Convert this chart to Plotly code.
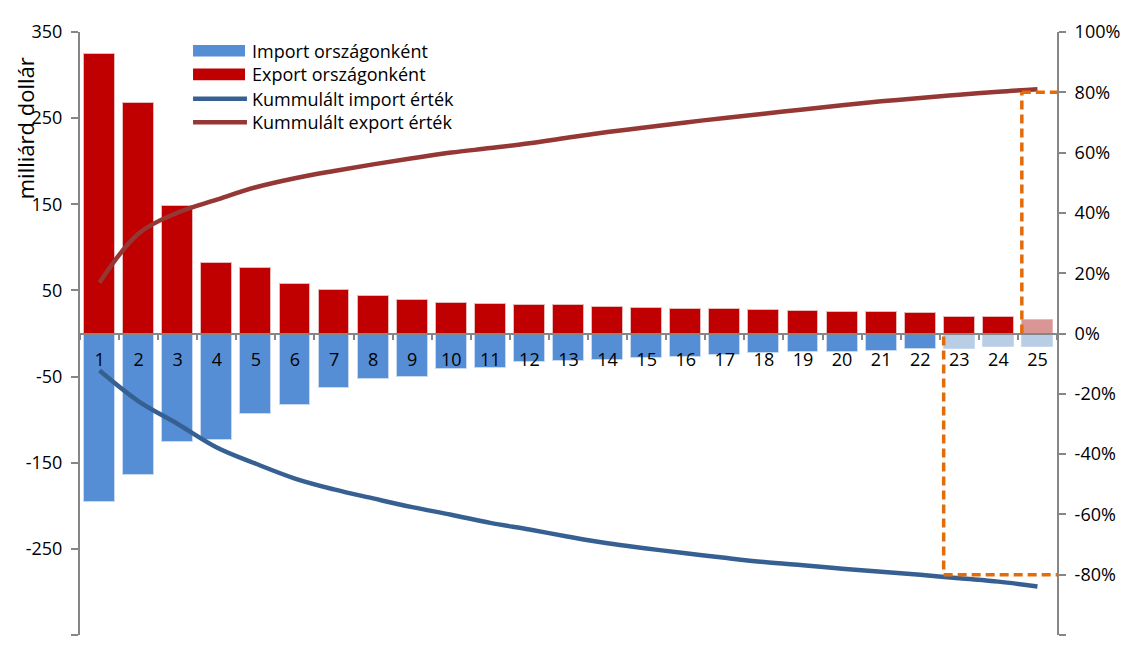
import plotly.graph_objects as go

categories = list(range(1, 25 + 1))
export_values = [325, 268, 148, 82, 75.5, 58, 50, 43, 38.5, 35, 34.3, 33.2, 32.8, 30.9,
                 29.7, 28.6, 28.6, 27.5, 26, 25.2, 24.4, 24, 19.5, 19, 15.5]
import_values = [-196, -164, -126, -124, -94, -83.5, -63, -53, -50, -41, -40, -33, -32,
                 -30.5, -28.6, -27.5, -24.8, -23.2, -22, -22, -20.6, -18, -18.5, -16, -16]
cum_export = [0.169, 0.332, 0.401, 0.444, 0.485, 0.515, 0.539, 0.561, 0.581, 0.600,
              0.615, 0.631, 0.650, 0.668, 0.684, 0.700, 0.715, 0.729, 0.743, 0.757,
              0.770, 0.781, 0.792, 0.802, 0.810]
cum_import = [-0.123, -0.225, -0.300, -0.378, -0.432, -0.481, -0.517, -0.547, -0.576,
              -0.601, -0.628, -0.650, -0.674, -0.696, -0.713, -0.729, -0.744, -0.758,
              -0.769, -0.780, -0.790, -0.800, -0.812, -0.823, -0.839]
export_light = [25]
import_light = [23, 24, 25]

left_ticks = [-350, -250, -150, -50, 50, 150, 250, 350]
left_ticktext = [str(v) for v in left_ticks]
right_ticks = [-1.0, -0.8, -0.6, -0.4, -0.2, 0.0, 0.2, 0.4, 0.6, 0.8, 1.0]
right_ticktext = [f"{round(v * 100)}%" for v in right_ticks]

series_names = ["Import országonként", "Export országonként",
                "Kummulált import érték", "Kummulált export érték"]

# reference lines (orange dashed): x position and 80% level
ref_import_x = 22.6
ref_export_x = 24.6
ref_level = 0.8

FONT = "Open Sans, Noto Sans, sans-serif"
GRAY = "#868686"
ORANGE = "#E36C09"
C_IMP, C_IMP_L = "#558ED5", "#B9CDE5"
C_EXP, C_EXP_L = "#C00000", "#DA9694"
C_IMP_LINE, C_EXP_LINE = "#376092", "#953735"

exp_colors = [C_EXP_L if c in export_light else C_EXP for c in categories]
imp_colors = [C_IMP_L if c in import_light else C_IMP for c in categories]

fig = go.Figure()
fig.add_trace(go.Bar(x=categories, y=import_values, name=series_names[0],
                     marker=dict(color=imp_colors, line=dict(color="#C6D9F1", width=1)),
                     width=0.79))
fig.add_trace(go.Bar(x=categories, y=export_values, name=series_names[1],
                     marker=dict(color=exp_colors, line=dict(color="#E6B9B8", width=1)),
                     width=0.79))
fig.add_trace(go.Scatter(x=categories, y=cum_import, yaxis="y2", mode="lines",
                         name=series_names[2],
                         line=dict(color=C_IMP_LINE, width=4.5, shape="spline")))
fig.add_trace(go.Scatter(x=categories, y=cum_export, yaxis="y2", mode="lines",
                         name=series_names[3],
                         line=dict(color=C_EXP_LINE, width=4.5, shape="spline")))

dash = dict(color=ORANGE, width=3.5, dash="9px,5px")
fig.add_shape(type="line", xref="x", yref="y2", x0=ref_import_x, x1=ref_import_x,
              y0=-0.01, y1=-ref_level, line=dash)
fig.add_shape(type="line", xref="x", yref="y2", x0=ref_import_x, x1=25.5,
              y0=-ref_level, y1=-ref_level, line=dash)
fig.add_shape(type="line", xref="x", yref="y2", x0=ref_export_x, x1=ref_export_x,
              y0=0, y1=ref_level, line=dash)
fig.add_shape(type="line", xref="x", yref="y2", x0=ref_export_x, x1=25.5,
              y0=ref_level, y1=ref_level, line=dash)

# custom legend (wide swatches as in the original)
leg_x0, leg_x1, leg_tx = 0.1157, 0.1689, 0.174
leg_rows = [0.969, 0.9297, 0.8894, 0.8502]
sw_h = 0.0096
fig.add_shape(type="rect", xref="paper", yref="paper", x0=leg_x0, x1=leg_x1,
              y0=leg_rows[0] - sw_h, y1=leg_rows[0] + sw_h,
              fillcolor=C_IMP, line=dict(width=0))
fig.add_shape(type="rect", xref="paper", yref="paper", x0=leg_x0, x1=leg_x1,
              y0=leg_rows[1] - sw_h, y1=leg_rows[1] + sw_h,
              fillcolor=C_EXP, line=dict(width=0))
fig.add_shape(type="line", xref="paper", yref="paper", x0=leg_x0, x1=leg_x1 + 0.002,
              y0=leg_rows[2], y1=leg_rows[2], line=dict(color=C_IMP_LINE, width=4.5))
fig.add_shape(type="line", xref="paper", yref="paper", x0=leg_x0, x1=leg_x1 + 0.002,
              y0=leg_rows[3], y1=leg_rows[3], line=dict(color=C_EXP_LINE, width=4.5))

annotations = [dict(text=name, xref="paper", yref="paper", x=leg_tx, y=yy,
                    xanchor="left", yanchor="middle", showarrow=False,
                    font=dict(size=18))
               for name, yy in zip(series_names, leg_rows)]
annotations.append(dict(text="milliárd dollár", textangle=-90, xref="paper", yref="paper",
                        x=-0.0555, y=0.84, showarrow=False, font=dict(size=22),
                        xanchor="center", yanchor="middle"))

fig.update_layout(
    width=1125, height=638,
    margin=dict(l=72, r=76, t=15, b=11),
    paper_bgcolor="white", plot_bgcolor="white",
    font=dict(family=FONT, size=18, color="black"),
    barmode="overlay",
    bargap=0,
    showlegend=False,
    xaxis=dict(range=[0.5, 25.5], tickvals=categories, ticktext=[str(c) for c in categories],
               anchor="free", position=0.5, showline=True, linecolor=GRAY, linewidth=2,
               showgrid=False, zeroline=False, ticks="outside", ticklen=10,
               tickcolor="rgba(0,0,0,0)",
               minor=dict(tick0=0.5, dtick=1, ticks="outside", ticklen=5,
                          tickcolor=GRAY, tickwidth=2, showgrid=False),
               tickfont=dict(size=18)),
    yaxis=dict(range=[-350, 350], tickvals=left_ticks, ticktext=left_ticktext,
               showgrid=False, zeroline=False,
               showline=True, linecolor=GRAY, linewidth=2, ticks="outside", ticklen=7,
               tickcolor=GRAY, tickwidth=2, tickfont=dict(size=18), ticklabelstandoff=5),
    yaxis2=dict(range=[-1, 1], tickvals=right_ticks, ticktext=right_ticktext,
                overlaying="y", side="right", showgrid=False, zeroline=False,
                showline=True, linecolor=GRAY, linewidth=2, ticks="outside", ticklen=7,
                tickcolor=GRAY, tickwidth=2, tickfont=dict(size=18), ticklabelstandoff=5),
    annotations=annotations,
)

fig.write_html("out.html")
